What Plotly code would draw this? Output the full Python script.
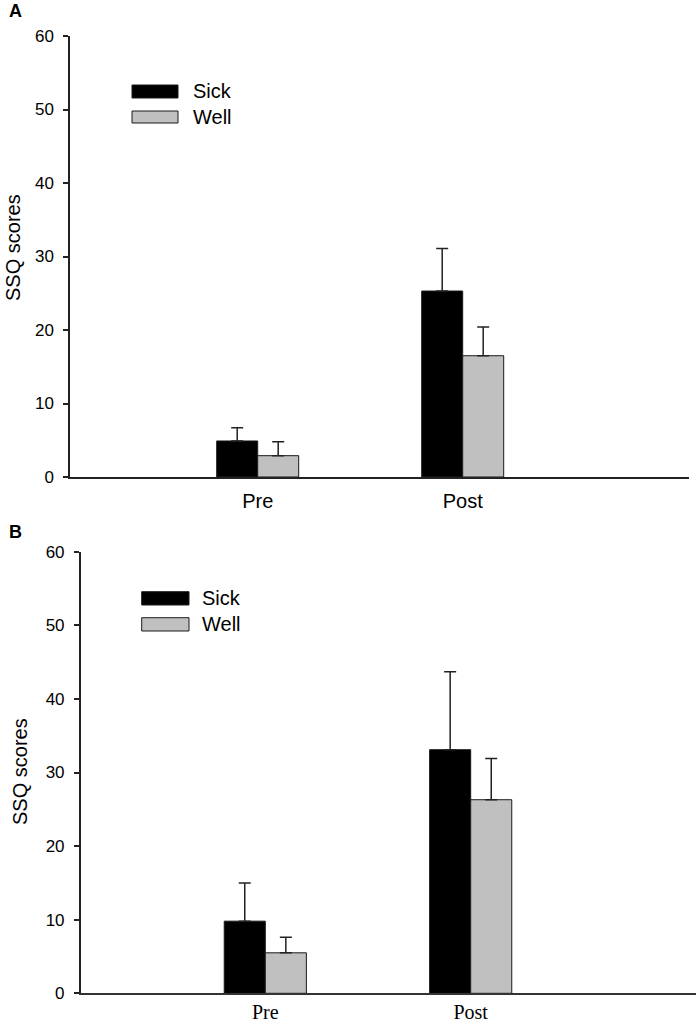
import plotly.graph_objects as go

W, H = 699, 1025

categories = ["Pre", "Post"]
series_names = ["Sick", "Well"]

# Panel A
a_sick = [4.9, 25.3]
a_sick_err = [1.8, 5.8]
a_well = [2.9, 16.5]
a_well_err = [1.9, 3.9]

# Panel B
b_sick = [9.8, 33.1]
b_sick_err = [5.2, 10.6]
b_well = [5.5, 26.3]
b_well_err = [2.1, 5.6]

y_ticks = [0, 10, 20, 30, 40, 50, 60]
y_title = "SSQ scores"

colors = {"Sick": "#000000", "Well": "#c0c0c0"}
SANS = "Liberation Sans, Arial, sans-serif"
SERIF = "Liberation Serif, Times New Roman, serif"

def px_x(x):
    return x / W

def px_y(y):
    return 1 - y / H

fig = go.Figure()

panels = [
    dict(xa="x", ya="y", sick=a_sick, sick_err=a_sick_err, well=a_well, well_err=a_well_err),
    dict(xa="x2", ya="y2", sick=b_sick, sick_err=b_sick_err, well=b_well, well_err=b_well_err),
]

for p in panels:
    for name, vals, errs in [("Sick", p["sick"], p["sick_err"]), ("Well", p["well"], p["well_err"])]:
        fig.add_trace(go.Bar(
            x=categories, y=vals, name=name, xaxis=p["xa"], yaxis=p["ya"],
            marker=dict(color=colors[name], line=dict(color="#1a1a1a", width=1)),
            error_y=dict(type="data", array=errs, symmetric=False, arrayminus=[0] * len(errs),
                         color="#222222", thickness=1.5, width=6),
            showlegend=False, hoverinfo="skip",
        ))

# Axis geometry (pixels)
A = dict(x0=70, x1=689, ytop=36, ybot=477, c0=257.7, c1=462.7)
B = dict(x0=80.7, x1=696, ytop=551.7, ybot=993.3, c0=265.3, c1=470.7)

def xrange_for(g):
    unit = g["c1"] - g["c0"]
    return [-(g["c0"] - g["x0"]) / unit, 1 + (g["x1"] - g["c1"]) / unit]

common_y = dict(range=[0, 60], tickvals=y_ticks, showline=True, linecolor="#222222", linewidth=1.5,
                ticks="outside", ticklen=5, tickwidth=1.5, tickcolor="#222222", automargin=False,
                showgrid=False, zeroline=False, tickfont=dict(family=SANS, size=17, color="#000000"),
                ticklabelstandoff=6)

fig.update_layout(
    width=W, height=H, margin=dict(l=0, r=0, t=0, b=0, autoexpand=False),
    paper_bgcolor="white", plot_bgcolor="white",
    barmode="group", bargap=0.6, bargroupgap=0,
    xaxis=dict(domain=[px_x(A["x0"]), px_x(A["x1"])], anchor="y", range=xrange_for(A),
               showline=True, linecolor="#222222", linewidth=1.5, ticks="", showgrid=False,
               automargin=False, zeroline=False,
               tickfont=dict(family=SANS, size=20, color="#000000"), ticklabelstandoff=5),
    yaxis=dict(domain=[px_y(A["ybot"]), px_y(A["ytop"])], anchor="x", **common_y),
    xaxis2=dict(domain=[px_x(B["x0"]), px_x(B["x1"])], anchor="y2", range=xrange_for(B),
                showline=True, linecolor="#333333", linewidth=1.5, ticks="", showgrid=False,
                automargin=False, zeroline=False,
                tickfont=dict(family=SERIF, size=20, color="#000000"), ticklabelstandoff=0),
    yaxis2=dict(domain=[px_y(B["ybot"]), px_y(B["ytop"])], anchor="x2", **common_y),
)

# Legends drawn as wide swatches
legends = [
    dict(sw_x0=132, sw_x1=178, rows=[(85, 98), (111, 123)], tx=191),
    dict(sw_x0=141.7, sw_x1=189, rows=[(591.7, 605), (617.7, 631)], tx=200),
]
for lg in legends:
    for name, (y0, y1) in zip(series_names, lg["rows"]):
        fig.add_shape(type="rect", xref="paper", yref="paper",
                      x0=px_x(lg["sw_x0"]), x1=px_x(lg["sw_x1"]), y0=px_y(y1), y1=px_y(y0),
                      fillcolor=colors[name], line=dict(color="#1a1a1a", width=1))
        fig.add_annotation(xref="paper", yref="paper", x=px_x(lg["tx"]), y=px_y((y0 + y1) / 2),
                           text=name, showarrow=False, xanchor="left", yanchor="middle",
                           font=dict(family=SANS, size=20, color="#000000"))

# Panel letters
for letter, (cx, cy) in [("A", (15, 11)), ("B", (15, 531.5))]:
    fig.add_annotation(xref="paper", yref="paper", x=px_x(cx), y=px_y(cy), text="<b>%s</b>" % letter,
                       showarrow=False, xanchor="center", yanchor="middle",
                       font=dict(family=SANS, size=18, color="#000000"))

# Y-axis titles
for (cx, cy) in [(13, 248), (20, 772)]:
    fig.add_annotation(xref="paper", yref="paper", x=px_x(cx), y=px_y(cy), text=y_title,
                       showarrow=False, textangle=-90, xanchor="center", yanchor="middle",
                       font=dict(family=SANS, size=20, color="#000000"))

fig.write_html("out.html", config={"displayModeBar": False},
               post_script="document.body.style.margin='0px';")
